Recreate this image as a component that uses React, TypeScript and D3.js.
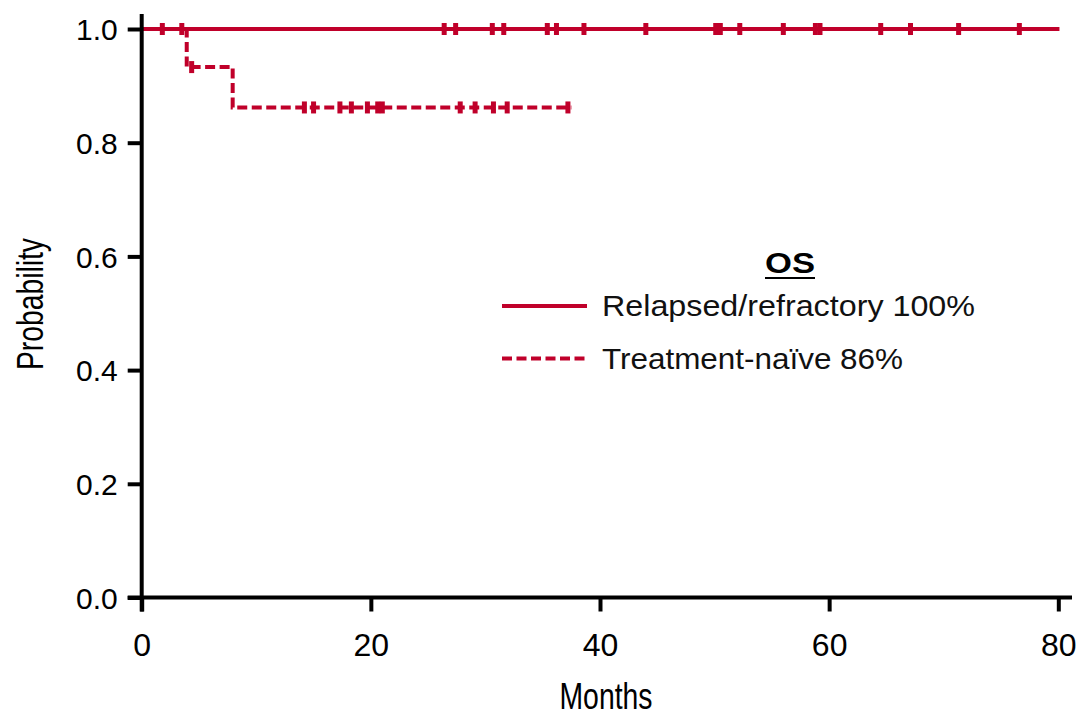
import React, { useEffect, useRef } from 'react';
import * as d3 from 'd3';

// Relapsed/refractory: no events, censored times (months)
const rrCensorTimes = [1.8, 3.5, 26.4, 27.4, 30.6, 31.6, 35.4, 36.2, 38.6, 44.0, 50.1, 50.5, 52.2, 56.0, 58.8, 59.2, 64.5, 67.1, 71.3, 76.6];
const rrEndTime = 80.1;

// Treatment-naive: event times and survival after each event
const tnEventTimes = [3.93, 7.94];
const tnSurvival = [0.933, 0.862];
const tnCensorTimes = [4.36, 14.2, 15.0, 17.3, 18.3, 19.7, 20.6, 21.0, 27.8, 29.1, 30.7, 31.9, 37.2];
const tnEndTime = 37.5;

const xTicks = [0, 20, 40, 60, 80];
const yTicks = [0, 0.2, 0.4, 0.6, 0.8, 1.0];

const legendLabels = ['Relapsed/refractory 100%', 'Treatment-naïve 86%'];
const legendWidths = [373, 301];

const RED = '#c0002a';
const FONT = '"Liberation Sans", Arial, Helvetica, sans-serif';

const App = () => {
  const svgRef = useRef<SVGSVGElement>(null);

  useEffect(() => {
    const svg = d3.select(svgRef.current);
    svg.selectAll('*').remove();

    const x = d3.scaleLinear().domain([0, 80]).range([141.7, 1058.3]);
    const y = d3.scaleLinear().domain([0, 1]).range([597.5, 29]);

    const survAt = (t: number) => {
      let s = 1;
      tnEventTimes.forEach((e, i) => { if (t >= e) s = tnSurvival[i]; });
      return s;
    };

    const line = d3.line<[number, number]>()
      .x(d => x(d[0]))
      .y(d => y(d[1]))
      .curve(d3.curveStepAfter);

    // Treatment-naive (dashed) drawn first
    const tnPts: [number, number][] = [[0, 1]];
    tnEventTimes.forEach((t, i) => tnPts.push([t, tnSurvival[i]]));
    tnPts.push([tnEndTime, tnSurvival[tnSurvival.length - 1]]);

    svg.append('path')
      .attr('d', line(tnPts))
      .attr('fill', 'none')
      .attr('stroke', RED)
      .attr('stroke-width', 4)
      .attr('stroke-dasharray', '10,4.5');

    svg.selectAll('.tnc')
      .data(tnCensorTimes)
      .enter()
      .append('rect')
      .attr('x', d => x(d) - 2.5)
      .attr('y', d => y(survAt(d)) - 6)
      .attr('width', 5)
      .attr('height', 12)
      .attr('fill', RED);

    // Relapsed/refractory (solid)
    svg.append('path')
      .attr('d', line([[0, 1], [rrEndTime, 1]]))
      .attr('fill', 'none')
      .attr('stroke', RED)
      .attr('stroke-width', 4);

    svg.selectAll('.rrc')
      .data(rrCensorTimes)
      .enter()
      .append('rect')
      .attr('x', d => x(d) - 2.5)
      .attr('y', y(1) - 6)
      .attr('width', 5)
      .attr('height', 12)
      .attr('fill', RED);

    // Axes
    const xAxis = svg.append('g')
      .attr('transform', `translate(0,${y(0)})`)
      .call(d3.axisBottom(x).tickValues(xTicks).tickSize(14).tickSizeOuter(0).tickFormat(d3.format('d')));
    xAxis.select('.domain').remove();
    xAxis.selectAll('.tick line').attr('stroke', '#000').attr('stroke-width', 4);
    xAxis.selectAll('.tick text')
      .attr('y', 58)
      .attr('dy', 0)
      .style('font-family', FONT)
      .style('font-size', '32px')
      .attr('fill', '#000');

    const yAxis = svg.append('g')
      .attr('transform', `translate(${x(0)},0)`)
      .call(d3.axisLeft(y).tickValues(yTicks).tickSize(14).tickSizeOuter(0).tickFormat(d3.format('.1f')));
    yAxis.select('.domain').remove();
    yAxis.selectAll('.tick line').attr('stroke', '#000').attr('stroke-width', 4);
    yAxis.selectAll('.tick text')
      .attr('x', -24)
      .attr('dy', '0.36em')
      .style('font-family', FONT)
      .style('font-size', '30px')
      .attr('fill', '#000');

    // axis lines
    svg.append('line')
      .attr('x1', x(0) - 14).attr('x2', 1072)
      .attr('y1', y(0)).attr('y2', y(0))
      .attr('stroke', '#000').attr('stroke-width', 4);
    svg.append('line')
      .attr('x1', x(0)).attr('x2', x(0))
      .attr('y1', 14).attr('y2', y(0) + 14)
      .attr('stroke', '#000').attr('stroke-width', 4);

    // Axis titles (condensed)
    svg.append('text')
      .attr('x', 606)
      .attr('y', 709)
      .attr('text-anchor', 'middle')
      .attr('textLength', 93)
      .attr('lengthAdjust', 'spacingAndGlyphs')
      .style('font-family', FONT)
      .style('font-size', '37px')
      .text('Months');

    svg.append('text')
      .attr('transform', `translate(43,304) rotate(-90)`)
      .attr('text-anchor', 'middle')
      .attr('textLength', 132)
      .attr('lengthAdjust', 'spacingAndGlyphs')
      .style('font-family', FONT)
      .style('font-size', '37px')
      .text('Probability');

    // Legend
    const legend = svg.append('g');
    legend.append('text')
      .attr('x', 790)
      .attr('y', 273)
      .attr('text-anchor', 'middle')
      .attr('textLength', 50)
      .attr('lengthAdjust', 'spacingAndGlyphs')
      .style('font-family', FONT)
      .style('font-size', '29px')
      .style('font-weight', 'bold')
      .text('OS');
    legend.append('line')
      .attr('x1', 765).attr('x2', 815)
      .attr('y1', 278).attr('y2', 278)
      .attr('stroke', '#000').attr('stroke-width', 2);

    legendLabels.forEach((label, i) => {
      const ly = 306 + i * 52.5;
      legend.append('line')
        .attr('x1', 502).attr('x2', 587)
        .attr('y1', ly).attr('y2', ly)
        .attr('stroke', RED)
        .attr('stroke-width', 4)
        .attr('stroke-dasharray', i === 1 ? '10,4.5' : null);
      legend.append('text')
        .attr('x', 602)
        .attr('y', ly + 10)
        .attr('textLength', legendWidths[i])
        .attr('lengthAdjust', 'spacingAndGlyphs')
        .style('font-family', FONT)
        .style('font-size', '30px')
        .attr('fill', '#111')
        .text(label);
    });
  }, []);

  return (
    <svg
      ref={svgRef}
      width={1084}
      height={718}
      style={{ position: 'absolute', left: 0, top: 0, background: '#fff' }}
    />
  );
};

export default App;
